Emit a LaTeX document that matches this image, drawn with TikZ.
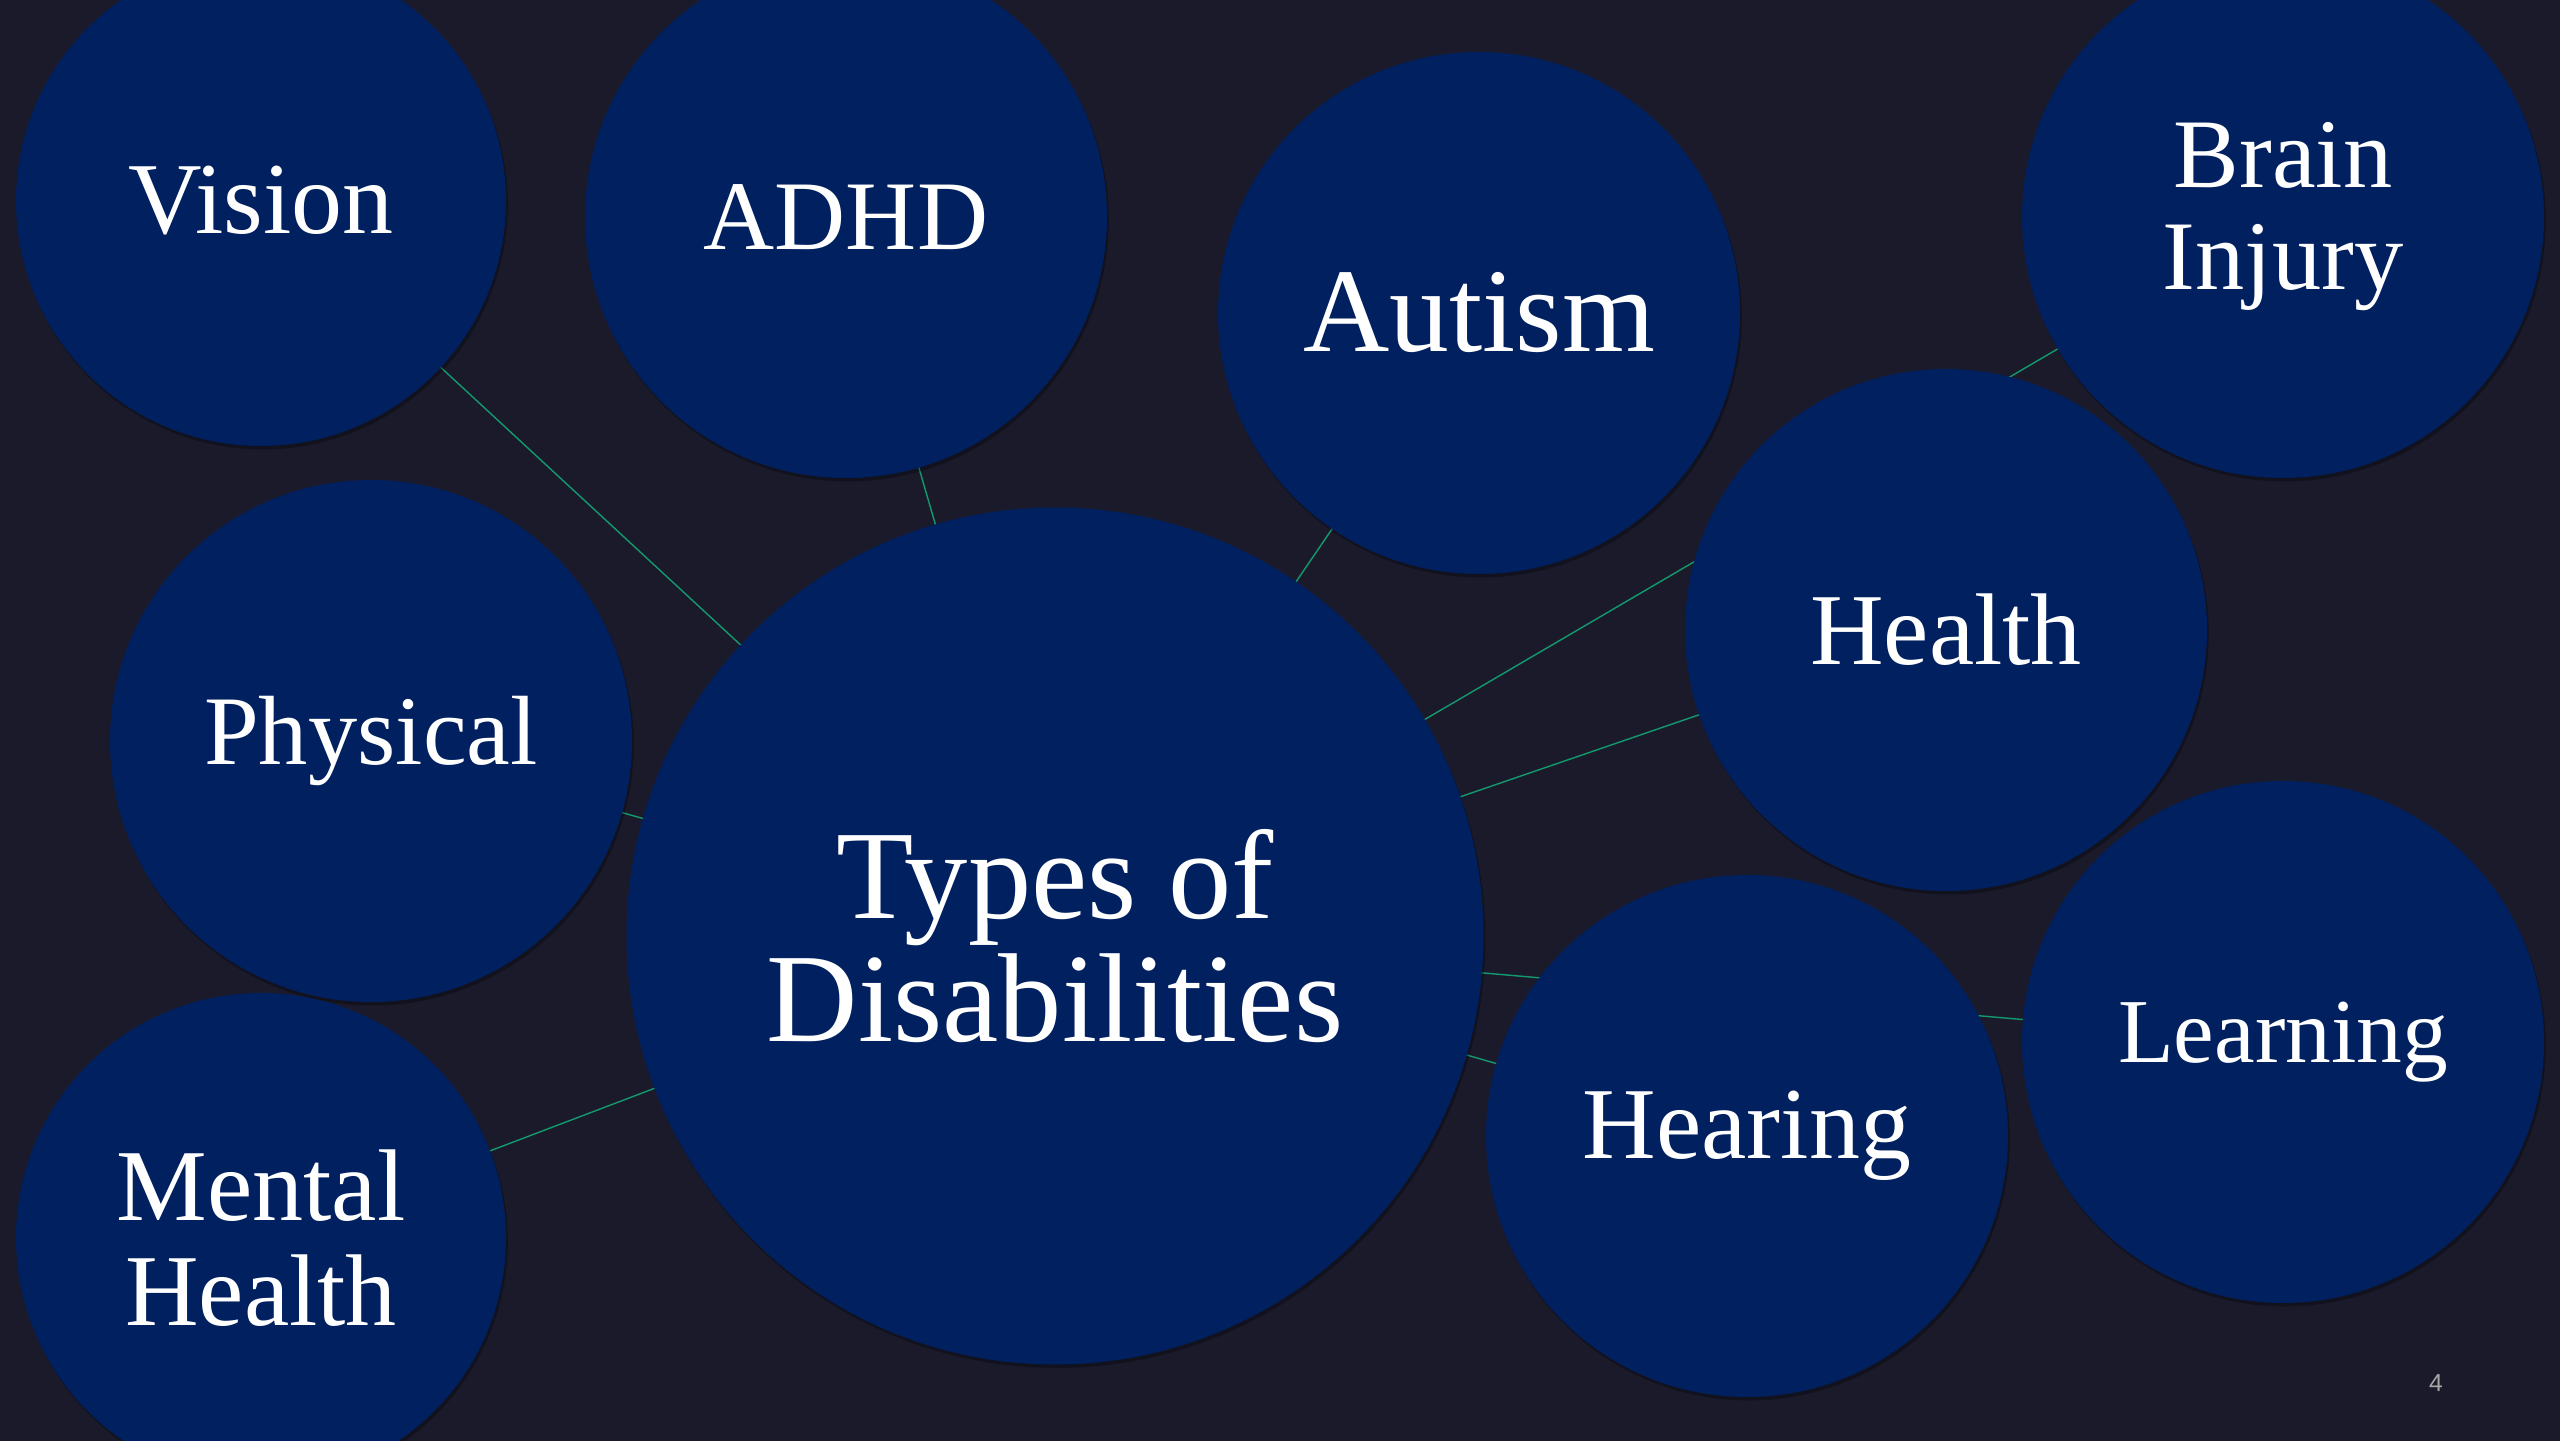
\documentclass[tikz,border=0pt]{standalone}
\usepackage{fontspec}
\setmainfont{Liberation Serif}
\setsansfont{Liberation Sans}
\usetikzlibrary{shadows}
\definecolor{slidebg}{HTML}{1B1A2B}
\definecolor{navy}{HTML}{002060}
\definecolor{linkgreen}{HTML}{129A6E}
\pgfdeclarelayer{back}
\pgfsetlayers{back,main}

\begin{document}
\begin{tikzpicture}[line width = 1pt,
                    topic/.style = {circle, fill = navy, text = white, align = center,
                                    inner sep = 0pt, minimum size = 5.22cm,
                                    font = \fontsize{29}{30}\selectfont,
                                    drop shadow = {shadow xshift = 0.5pt, shadow yshift = -1pt,
                                                   fill = black, opacity = 0.3}},
                    small/.style = {topic, minimum size = 4.9cm},
                    hub/.style = {topic, minimum size = 8.57cm, font = \fontsize{36}{35}\selectfont},
                    link/.style = {draw = linkgreen}]
      \useasboundingbox (0, 0) rectangle (25.6, 14.4);
      \begin{pgfonlayer}{back}
        \fill [slidebg] (-0.1, -0.1) rectangle (25.7, 14.5);
      \end{pgfonlayer}
      \node [hub] (types) at (10.55, 5.04){Types of\\Disabilities};
      \node [small] (vision) at (2.61, 12.39){Vision};
      \node [topic, font = \fontsize{28}{29}\selectfont] (adhd) at (8.46, 12.23){ADHD};
      \node [topic, font = \fontsize{34}{35}\selectfont] (autism) at (14.79, 11.27){Autism};
      \node [topic, font = \fontsize{28}{29}\selectfont] (brain) at (22.83, 12.23){Brain\\Injury};
      \node [topic] (health) at (19.46, 8.10){Health};
      \node [topic, font = \fontsize{28}{29}\selectfont] (physical) at (3.71, 6.99){Physical};
      \node [small] (mental) at (2.61, 2.02){Mental\\Health};
      \node [topic] (hearing) at (17.47, 3.04){Hearing};
      \node [topic, font = \fontsize{26}{27}\selectfont] (learning) at (22.83, 3.98){Learning};
      \node [text = gray!70, font = \sffamily\fontsize{7}{8}\selectfont] (page) at (24.36, 0.57){4};
      \begin{pgfonlayer}{back}
        \foreach \t in {vision, adhd, autism, brain, health, physical, mental, hearing, learning}
          \draw [link] (types.center) -- (\t.center);
      \end{pgfonlayer}
    \end{tikzpicture}
\end{document}
